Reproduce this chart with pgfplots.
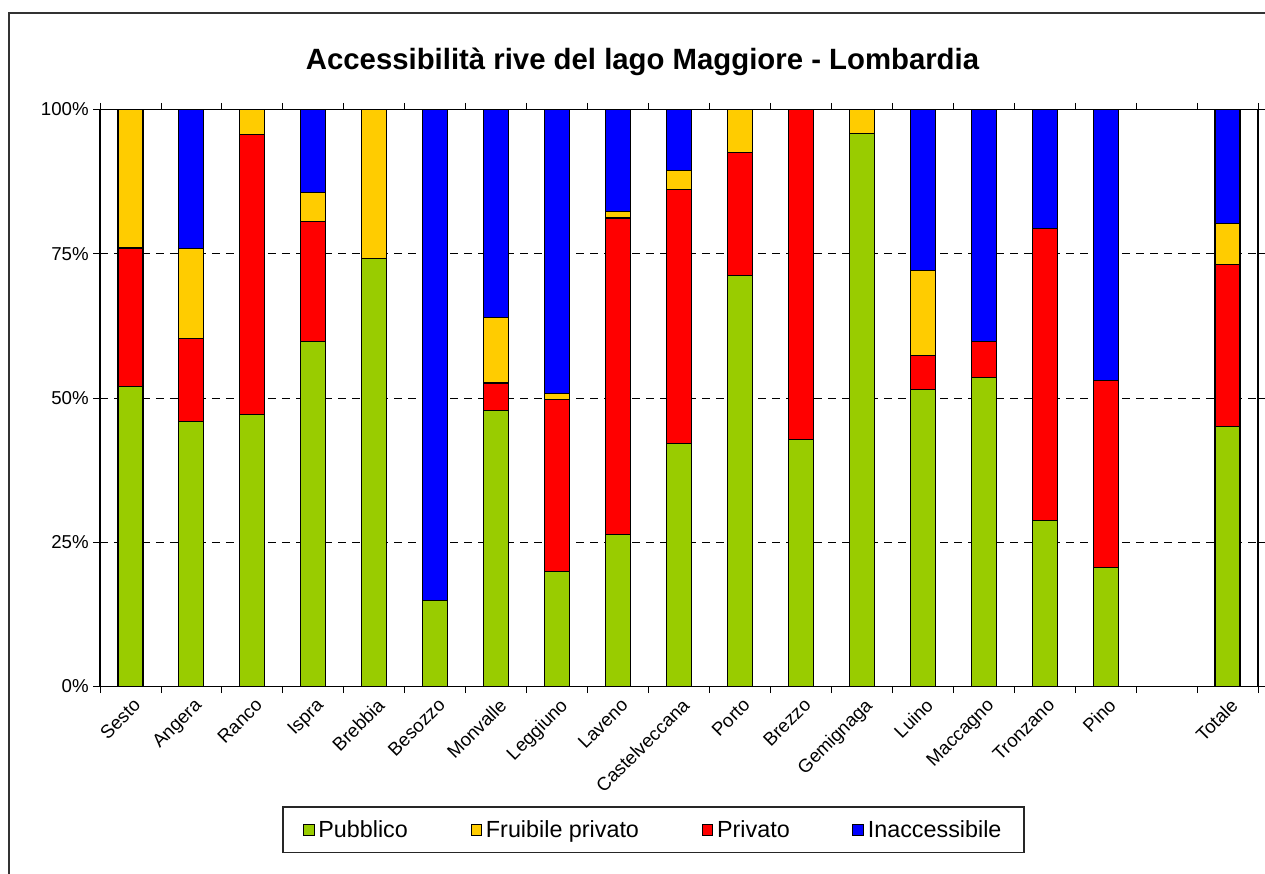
\documentclass[border=0pt]{standalone}
\usepackage{fontspec}
\setmainfont{Liberation Sans}
\usepackage{pgfplots}
\pgfplotsset{compat=1.18}
\definecolor{cgreen}{HTML}{99CC00}
\definecolor{cyellow}{HTML}{FFCC00}
\definecolor{cred}{HTML}{FF0000}
\definecolor{cblue}{HTML}{0000FF}
\begin{document}
\begin{tikzpicture}
\useasboundingbox (-75pt,-140.625pt) rectangle (873.75pt,514.875pt);
\draw[line width=1.1pt, color=black!80] (-68.25pt,-141pt) -- (-68.25pt,505.125pt) -- (874pt,505.125pt);
\node[font=\fontsize{22}{25}\selectfont\bfseries] at (406.9pt,468.4pt) {Accessibilità rive del lago Maggiore - Lombardia};
\begin{axis}[
  at={(0,0)}, anchor=south west,
  scale only axis, width=868.5pt, height=432.75pt,
  xmin=-0.5, xmax=18.5, ymin=0, ymax=100,
  ybar stacked, bar width=18.75pt,
  xtick={0,1,2,3,4,5,6,7,8,9,10,11,12,13,14,15,16,18},
  xticklabels={Sesto,Angera,Ranco,Ispra,Brebbia,Besozzo,Monvalle,Leggiuno,Laveno,Castelveccana,Porto,Brezzo,Gemignaga,Luino,Maccagno,Tronzano,Pino,Totale},
  minor xtick={-0.5,0.5,...,18.5},
  major x tick style={draw=none},
  minor x tick style={black, line width=0.6pt},
  tick align=outside, major tick length=5pt, minor tick length=5pt,
  x tick label style={rotate=45, anchor=north east, font=\fontsize{14}{16}\selectfont, inner sep=1pt, yshift=-2pt},
  ytick={0,25,50,75,100},
  yticklabels={0\%,25\%,50\%,75\%,100\%},
  y tick label style={font=\fontsize{14}{16}\selectfont},
  major y tick style={black, line width=0.6pt},
  ymajorgrids,
  y grid style={black, line width=0.5pt, dash pattern=on 6pt off 4.5pt},
  axis line style={black, line width=0.8pt},
  legend image code/.code={\draw[#1, line width=0.6pt] (0pt,-4pt) rectangle (8pt,4pt);},
  legend style={at={(axis description cs:0.478,-0.248)}, anchor=center,
    legend columns=4, draw=black!85, line width=1.2pt,
    font=\fontsize{17.5}{19}\selectfont,
    inner xsep=15pt, inner ysep=8pt,
    nodes={inner sep=2pt},
    /tikz/every odd column/.append style={column sep=1pt},
    /tikz/every even column/.append style={column sep=45pt}},
  legend cell align=left,
]
\addlegendimage{fill=cgreen, draw=black}
\addlegendentry{Pubblico}
\addlegendimage{fill=cyellow, draw=black}
\addlegendentry{Fruibile privato}
\addlegendimage{fill=cred, draw=black}
\addlegendentry{Privato}
\addlegendimage{fill=cblue, draw=black}
\addlegendentry{Inaccessibile}
\addplot[fill=cgreen, draw=black, line width=0.8pt, forget plot] coordinates {(0,52) (1,46) (2,47.2) (3,59.8) (4,74.2) (5,14.9) (6,47.8) (7,19.9) (8,26.3) (9,42.1) (10,71.3) (11,42.8) (12,95.8) (13,51.5) (14,53.6) (15,28.7) (16,20.6) (18,45.1)};
\addplot[fill=cred, draw=black, line width=0.8pt, forget plot] coordinates {(0,24) (1,14.3) (2,48.4) (3,20.8) (4,0) (5,0) (6,4.8) (7,29.8) (8,54.9) (9,44.1) (10,21.3) (11,57.2) (12,0) (13,5.9) (14,6.2) (15,50.6) (16,32.5) (18,28.0)};
\addplot[fill=cyellow, draw=black, line width=0.8pt, forget plot] coordinates {(0,24) (1,15.6) (2,4.4) (3,5.0) (4,25.8) (5,0) (6,11.3) (7,1.0) (8,1.2) (9,3.2) (10,7.4) (11,0) (12,4.2) (13,14.7) (14,0) (15,0) (16,0) (18,7.2)};
\addplot[fill=cblue, draw=black, line width=0.8pt, forget plot] coordinates {(0,0) (1,24.1) (2,0) (3,14.4) (4,0) (5,85.1) (6,36.1) (7,49.3) (8,17.6) (9,10.6) (10,0) (11,0) (12,0) (13,27.9) (14,40.2) (15,20.7) (16,46.9) (18,19.7)};
\end{axis}
\end{tikzpicture}
\end{document}
